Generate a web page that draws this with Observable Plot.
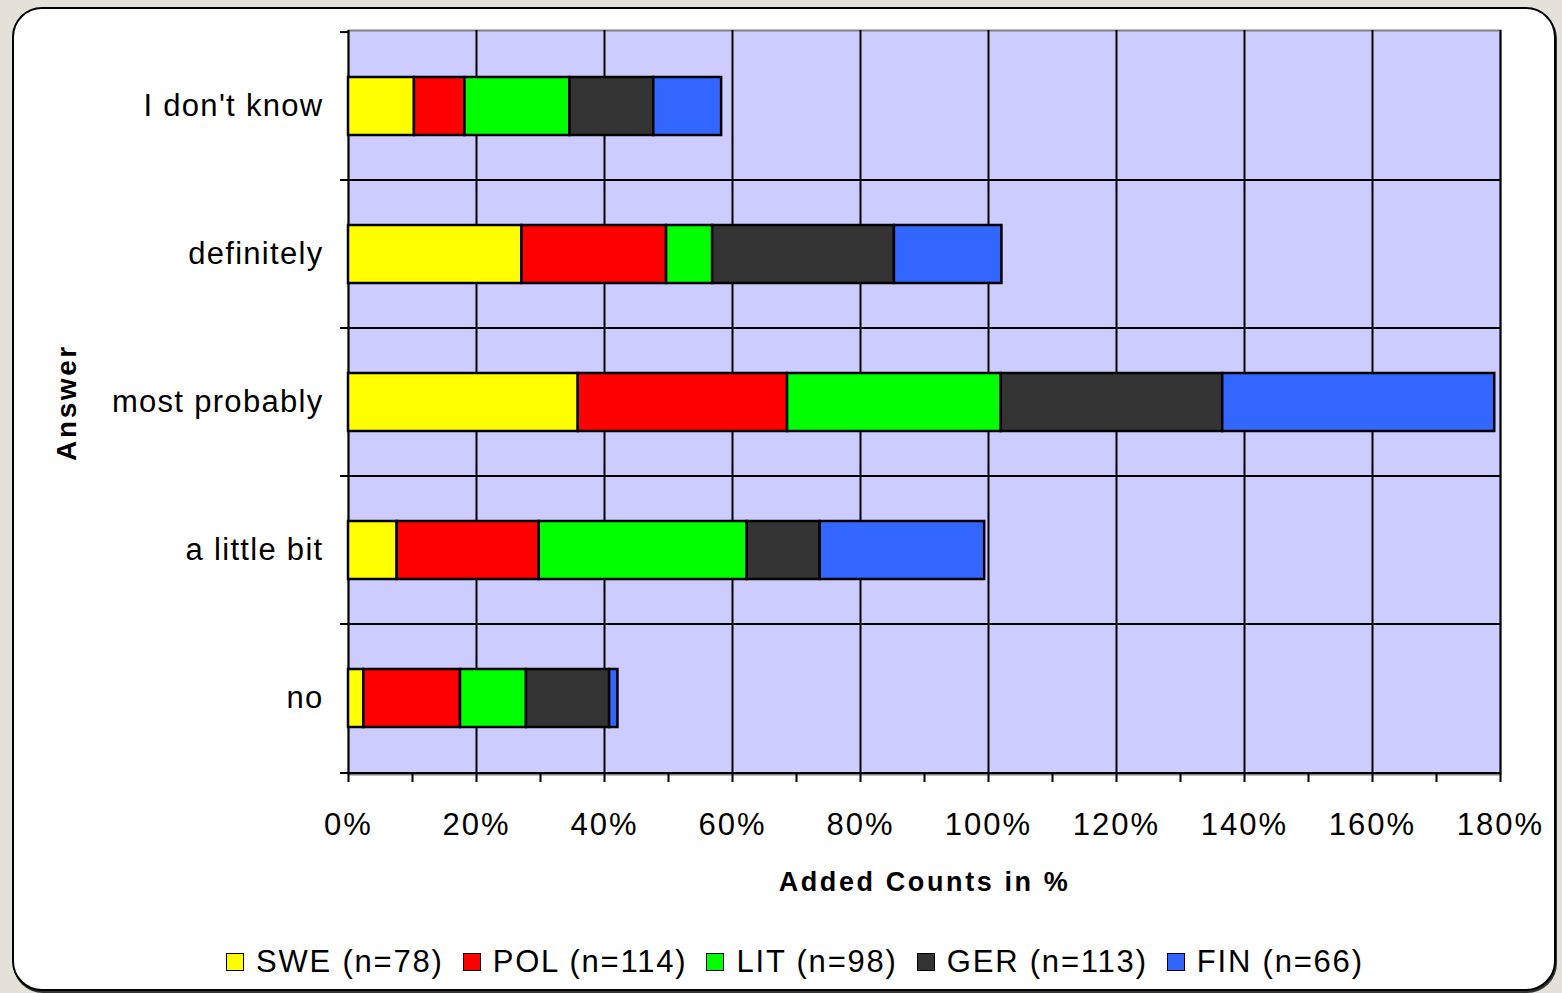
<!DOCTYPE html>
<html>
<head>
<meta charset="utf-8">
<script src="https://cdn.jsdelivr.net/npm/d3@7"></script>
<script src="https://cdn.jsdelivr.net/npm/@observablehq/plot@0.6"></script>
<style>
  html, body { margin: 0; padding: 0; }
  body { width: 1562px; height: 993px; background: #e4e2d8; position: relative; overflow: hidden;
         font-family: "Liberation Sans", Arial, sans-serif; }
  #box { position: absolute; left: 12px; top: 7px; width: 1540px; height: 980px;
         background: #fff; border: 2px solid #000; border-radius: 30px; box-shadow: 1px 2px 0 #333; }
  #chart { position: absolute; left: 0; top: 0; }
  #legend { position: absolute; left: 226px; top: 944px; display: flex; align-items: center;
            font-size: 31px; letter-spacing: 1.8px; color: #000; white-space: nowrap; }
  .item { display: flex; align-items: center; margin-right: 19px; }
  .sw { width: 16px; height: 16px; border: 1.5px solid #000; margin-right: 12px; }
</style>
</head>
<body>
<div id="box"></div>
<div id="chart"></div>
<div id="legend"></div>
<script>
// ---- data ----
const answers = ["I don't know", "definitely", "most probably", "a little bit", "no"];
const countries = ["SWE (n=78)", "POL (n=114)", "LIT (n=98)", "GER (n=113)", "FIN (n=66)"];
const colors = ["#ffff00", "#ff0000", "#00ff00", "#333333", "#3366ff"];
// values per answer, in % (same order as answers)
const SWE = [10.3, 27.1, 35.9, 7.6, 2.4];
const POL = [7.9, 22.6, 32.7, 22.2, 15.1];
const LIT = [16.4, 7.2, 33.4, 32.5, 10.3];
const GER = [13.1, 28.4, 34.6, 11.4, 13.0];
const FIN = [10.6, 16.8, 42.5, 25.7, 1.3];
const majorTicks = [0, 20, 40, 60, 80, 100, 120, 140, 160, 180];
const minorTicks = [10, 30, 50, 70, 90, 110, 130, 150, 170];
const gridTicks = [20, 40, 60, 80, 100, 120, 140, 160, 180];

const series = [SWE, POL, LIT, GER, FIN];
const data = [];
answers.forEach((a, i) => {
  countries.forEach((c, j) => data.push({answer: a, country: c, value: series[j][i]}));
});

const W = 1562, H = 930;
const mL = 348, mR = 62, mT = 30, mB = 156;
const step = (H - mT - mB) / answers.length;
const font = '"Liberation Sans", Arial, sans-serif';

const chart = Plot.plot({
  width: W, height: H,
  marginLeft: mL, marginRight: mR, marginTop: mT, marginBottom: mB,
  style: {fontFamily: font, fontSize: "31px", background: "transparent", color: "#000", overflow: "visible"},
  x: {domain: [0, 180]},
  y: {domain: answers, paddingInner: 0.61, paddingOuter: 0.305},
  color: {domain: countries, range: colors},
  marks: [
    Plot.frame({fill: "#ccccff", stroke: "#808080", strokeWidth: 2}),
    Plot.ruleX(gridTicks, {stroke: "#000", strokeWidth: 2}),
    // horizontal band boundaries (with tick stubs left of axis)
    Plot.ruleY(answers.slice(1), {y: d => d, dy: -step / 2, stroke: "#000", strokeWidth: 2, insetLeft: -8}),
    Plot.ruleY(answers.slice(-1), {y: d => d, dy: step / 2, stroke: "#000", strokeWidth: 2, insetLeft: -8}),
    Plot.ruleY(answers.slice(0, 1), {y: d => d, dy: -step / 2, stroke: "#000", strokeWidth: 2, insetLeft: -8, insetRight: W - mL - mR}),
    Plot.ruleX([0], {stroke: "#000", strokeWidth: 2}),
    Plot.barX(data, {x: "value", y: "answer", fill: "country", stroke: "#000", strokeWidth: 2.5}),
    Plot.axisX(majorTicks, {tickSize: 8, tickPadding: 30, strokeWidth: 2, tickFormat: d => d + "%", label: null, fontSize: 31}),
    Plot.axisX(minorTicks, {tickSize: 8, strokeWidth: 2, tickFormat: () => "", label: null}),
    Plot.axisY({tickSize: 0, tickPadding: 25, label: null, fontSize: 31}),
    Plot.text(["Added Counts in %"], {frameAnchor: "bottom", dy: 116, text: d => d, fontWeight: "bold", fontSize: 27}),
    Plot.text(["Answer"], {frameAnchor: "left", dx: -281, rotate: -90, textAnchor: "middle", text: d => d, fontWeight: "bold", fontSize: 28})
  ]
});
document.getElementById("chart").appendChild(chart);

// letter spacing to mimic the original's loose text rendering
const svg = d3.select(chart);
svg.selectAll('g[aria-label="x-axis tick label"] text').style("letter-spacing", "2px");
svg.selectAll('g[aria-label="y-axis tick label"] text').style("letter-spacing", "1.3px");
svg.selectAll('g[aria-label="text"] text').style("letter-spacing", "2.6px");

const legend = document.getElementById("legend");
countries.forEach((c, i) => {
  const it = document.createElement("div");
  it.className = "item";
  const sw = document.createElement("div");
  sw.className = "sw";
  sw.style.background = colors[i];
  const t = document.createElement("span");
  t.textContent = c;
  it.appendChild(sw); it.appendChild(t);
  legend.appendChild(it);
});
</script>
</body>
</html>
